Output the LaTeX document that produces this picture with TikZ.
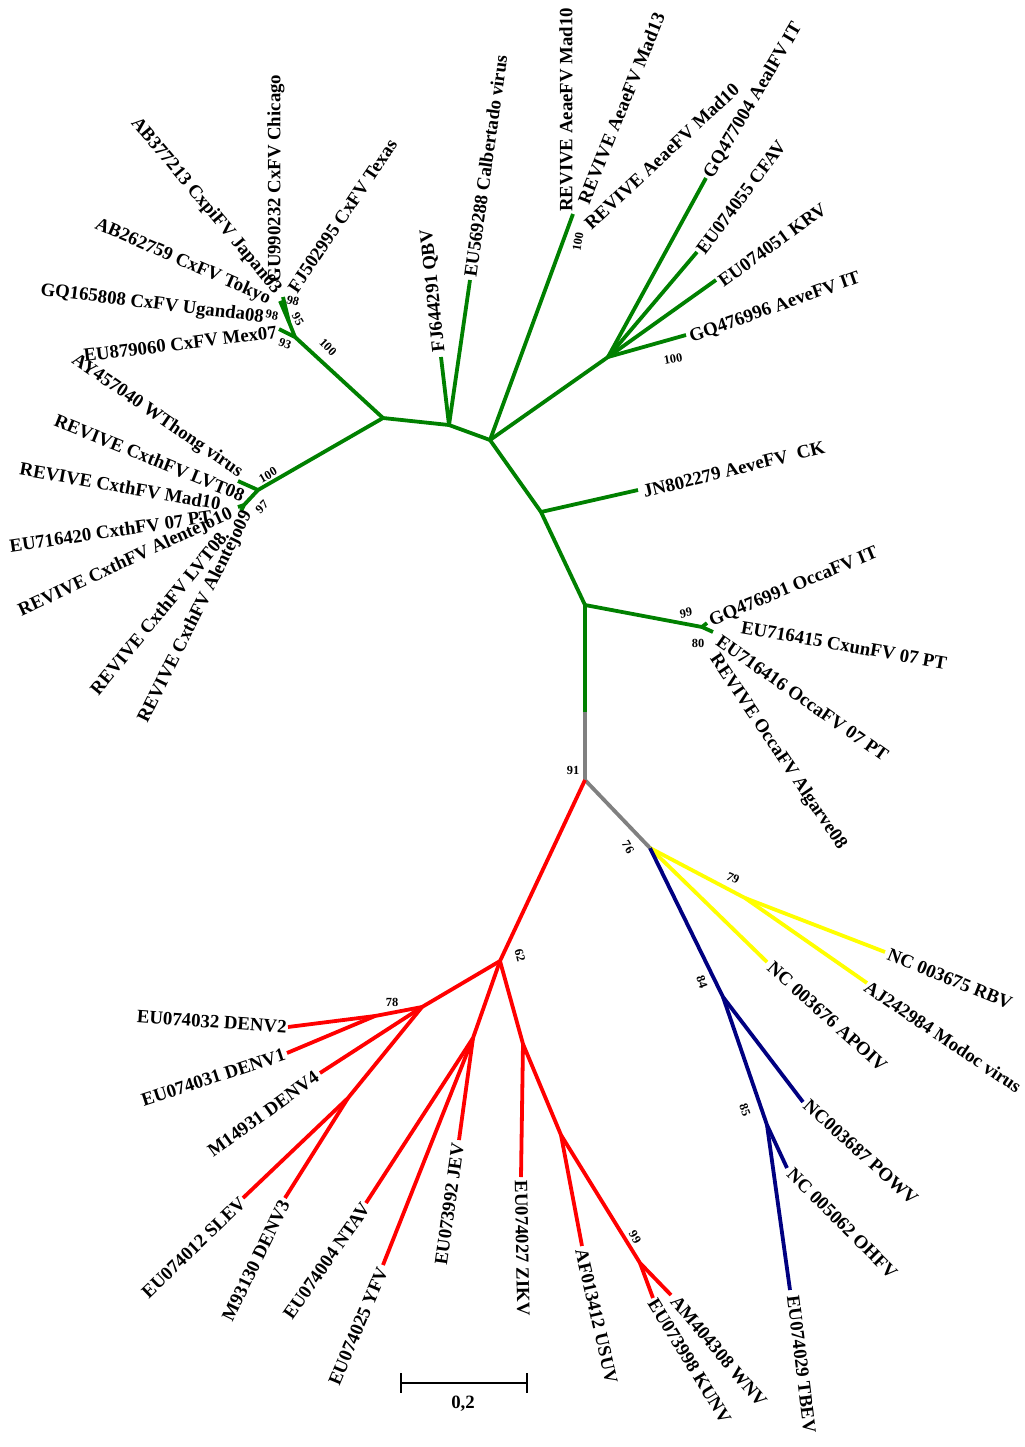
\documentclass[tikz,border=0pt]{standalone}
\usepackage{fontspec}
\setmainfont{Liberation Serif}
\definecolor{tgreen}{RGB}{0,128,0}
\definecolor{tblue}{RGB}{0,0,128}
\definecolor{tgray}{RGB}{128,128,128}
\definecolor{tyellow}{RGB}{255,255,0}
\definecolor{tred}{RGB}{255,0,0}
\begin{document}
\begin{tikzpicture}[x=0.5pt,y=-0.5pt,
  br/.style={line width=1.9pt, line join=round},
  lab/.style={font=\fontsize{9.4}{11}\selectfont\bfseries, inner sep=0pt},
  bs/.style={font=\fontsize{6.2}{7}\selectfont\bfseries, inner sep=0pt},
  labW/.style={lab, anchor=west},
  labE/.style={lab, anchor=east}]
\useasboundingbox (0,0) rectangle (1024,1447);
% ---------- coordinates ----------
\coordinate (R) at (585,780);
\coordinate (G) at (585,712);
\coordinate (N1) at (585,605);
\coordinate (O1) at (702,627);
\coordinate (O2) at (713,632);
\coordinate (O3) at (707,623);
\coordinate (N2) at (541,512);
\coordinate (JN) at (638,490);
\coordinate (N3) at (490,440);
\coordinate (AE) at (573,214);
\coordinate (N5) at (608,357);
\coordinate (L1) at (706,178);
\coordinate (L2) at (697,252);
\coordinate (L3) at (716,280);
\coordinate (L4) at (686,335);
\coordinate (N4) at (449,425);
\coordinate (QB) at (441,357);
\coordinate (CA) at (470,280);
\coordinate (N6) at (383,418);
\coordinate (N7) at (295,337);
\coordinate (MX) at (279,329);
\coordinate (N7b) at (289,322);
\coordinate (TA) at (283,297);
\coordinate (TBx) at (280,301);
\coordinate (N8) at (258,490);
\coordinate (WT) at (238,481);
\coordinate (N8b) at (244,505);
\coordinate (TC) at (241,511);
\coordinate (TD) at (238,507);
\coordinate (N76) at (650,848);
\coordinate (AP) at (767,962);
\coordinate (Y79) at (745,898);
\coordinate (RB) at (885,952);
\coordinate (MO) at (867,983);
\coordinate (B84) at (723,997);
\coordinate (PO) at (803,1102);
\coordinate (B85) at (767,1125);
\coordinate (OH) at (787,1168);
\coordinate (TBE) at (790,1290);
\coordinate (N62) at (500,961);
\coordinate (N78) at (422,1007);
\coordinate (D12) at (375,1016);
\coordinate (D2) at (288,1027);
\coordinate (D1) at (287,1053);
\coordinate (D4) at (320,1073);
\coordinate (N3s) at (348,1098);
\coordinate (SL) at (243,1198);
\coordinate (D3) at (285,1198);
\coordinate (NJ) at (473,1038);
\coordinate (NT) at (366,1203);
\coordinate (YF) at (383,1265);
\coordinate (JE) at (459,1140);
\coordinate (NZ) at (523,1044);
\coordinate (ZI) at (521,1177);
\coordinate (NU) at (561,1135);
\coordinate (US) at (582,1246);
\coordinate (NW) at (640,1263);
\coordinate (WN) at (671,1295);
\coordinate (KU) at (653,1298);
% ---------- branches ----------
\draw[br, tgray] (G) -- (R) -- (N76);
\draw[br, tgreen] (G) -- (N1);
\draw[br, tgreen] (N1) -- (O1) -- (O2);
\draw[br, tgreen] (O1) -- (O3);
\draw[br, tgreen] (N1) -- (N2) -- (N3);
\draw[br, tgreen] (N2) -- (JN);
\draw[br, tgreen] (N3) -- (AE);
\draw[br, tgreen] (N3) -- (N5);
\draw[br, tgreen] (N5) -- (L1);
\draw[br, tgreen] (N5) -- (L2);
\draw[br, tgreen] (N5) -- (L3);
\draw[br, tgreen] (N5) -- (L4);
\draw[br, tgreen] (N3) -- (N4) -- (N6);
\draw[br, tgreen] (N4) -- (QB);
\draw[br, tgreen] (N4) -- (CA);
\draw[br, tgreen] (N6) -- (N7) -- (MX);
\draw[br, tgreen] (N7) -- (N7b) -- (TA);
\draw[br, tgreen] (N7b) -- (TBx);
\draw[br, tgreen] (N6) -- (N8) -- (WT);
\draw[br, tgreen] (N8) -- (N8b) -- (TC);
\draw[br, tgreen] (N8b) -- (TD);
\draw[br, tyellow] (N76) -- (AP);
\draw[br, tyellow] (N76) -- (Y79) -- (RB);
\draw[br, tyellow] (Y79) -- (MO);
\draw[br, tblue] (N76) -- (B84) -- (PO);
\draw[br, tblue] (B84) -- (B85) -- (OH);
\draw[br, tblue] (B85) -- (TBE);
\draw[br, tred] (R) -- (N62) -- (N78) -- (D12) -- (D2);
\draw[br, tred] (D12) -- (D1);
\draw[br, tred] (N78) -- (D4);
\draw[br, tred] (N78) -- (N3s) -- (SL);
\draw[br, tred] (N3s) -- (D3);
\draw[br, tred] (N62) -- (NJ) -- (NT);
\draw[br, tred] (NJ) -- (YF);
\draw[br, tred] (NJ) -- (JE);
\draw[br, tred] (N62) -- (NZ) -- (ZI);
\draw[br, tred] (NZ) -- (NU) -- (US);
\draw[br, tred] (NU) -- (NW) -- (WN);
\draw[br, tred] (NW) -- (KU);
% ---------- leaf labels: green ----------
\node[labE, rotate=-50] (t1) at (278,292) {AB377213 CxpiFV Japan03};
\node[labW, rotate=90] (t2) at (276,283) {GU990232 CxFV Chicago};
\node[labW, rotate=56] (t3) at (292,291) {FJ502995 CxFV Texas};
\node[labE, rotate=-23.5] (t4) at (270,300) {AB262759 CxFV Tokyo};
\node[labE, rotate=-7] (t5) at (264,318) {GQ165808 CxFV Uganda08};
\node[labE, rotate=7] (t6) at (277,332) {EU879060 CxFV Mex07};
\node[labE, rotate=-34.5] (t7) at (241,474) {AY457040 WThong virus};
\node[labE, rotate=-22] (t8) at (244,496) {REVIVE CxthFV LVT08};
\node[labE, rotate=-10] (t9) at (221,504) {REVIVE CxthFV Mad10};
\node[labE, rotate=8.5] (t10) at (212,516) {EU716420 CxthFV 07 PT};
\node[labE, rotate=25] (t11) at (232,513) {REVIVE CxthFV Alentejo10};
\node[labE, rotate=50.5] (t12) at (223,535) {REVIVE CxthFV LVT08};
\node[labE, rotate=63.5] (t13) at (248,512) {REVIVE CxthFV Alentejo09};
\node[labW, rotate=96] (t14) at (440,352) {FJ644291 QBV};
\node[labW, rotate=82] (t15) at (470,277) {EU569288 Calbertado virus};
\node[labW, rotate=90] (t16) at (566,212) {REVIVE AeaeFV Mad10};
\node[labW, rotate=68] (t17) at (583,203) {REVIVE AeaeFV Mad13};
\node[labW, rotate=43] (t18) at (587,226) {REVIVE AeaeFV Mad10};
\node[labW, rotate=59.5] (t19) at (708,177) {GQ477004 AealFV IT};
\node[labW, rotate=53] (t20) at (700,252) {EU074055 CFAV};
\node[labW, rotate=36] (t21) at (720,283) {EU074051 KRV};
\node[labW, rotate=19.5] (t22) at (690,338) {GQ476996 AeveFV IT};
\node[labW, rotate=14] (t23) at (643,492) {JN802279 AeveFV~~CK};
\node[labW, rotate=22.6] (t24) at (710,622) {GQ476991 OccaFV IT};
\node[labW, rotate=-10] (t25) at (741,627) {EU716415 CxunFV 07 PT};
\node[labW, rotate=-35] (t26) at (718,639) {EU716416 OccaFV 07 PT};
\node[labW, rotate=-56] (t27) at (713,656) {REVIVE OccaFV Algarve08};
% ---------- leaf labels: yellow / blue ----------
\node[labW, rotate=-22] (t28) at (888,954) {NC 003675 RBV};
\node[labW, rotate=-34] (t29) at (866,985) {AJ242984 Modoc virus};
\node[labW, rotate=-42] (t30) at (770,965) {NC 003676 APOIV};
\node[labW, rotate=-42] (t31) at (806,1103) {NC003687 POWV};
\node[labW, rotate=-45] (t32) at (790,1171) {NC 005062 OHFV};
\node[labW, rotate=-83] (t33) at (793,1295) {EU074029 TBEV};
% ---------- leaf labels: red ----------
\node[labE, rotate=-4] (t34) at (287,1027) {EU074032 DENV2};
\node[labE, rotate=18] (t35) at (285,1054) {EU074031 DENV1};
\node[labE, rotate=36] (t36) at (317,1075) {M14931 DENV4};
\node[labE, rotate=44] (t37) at (243,1200) {EU074012 SLEV};
\node[labE, rotate=64] (t38) at (285,1201) {M93130 DENV3};
\node[labE, rotate=55] (t39) at (366,1205) {EU074004 NTAV};
\node[labE, rotate=67] (t40) at (383,1268) {EU074025 YFV};
\node[labE, rotate=82] (t41) at (458,1143) {EU073992 JEV};
\node[labW, rotate=-89] (t42) at (521,1180) {EU074027 ZIKV};
\node[labW, rotate=-77] (t43) at (581,1249) {AF013412 USUV};
\node[labW, rotate=-58.5] (t44) at (652,1300) {EU073998 KUNV};
\node[labW, rotate=-50] (t45) at (674,1298) {AM404308 WNV};
% ---------- bootstrap values ----------
\node[bs, rotate=-15] (b1) at (293,301) {98};
\node[bs, rotate=-10] (b2) at (272,315) {98};
\node[bs, rotate=-60] (b3) at (298,319) {95};
\node[bs, rotate=-20] (b4) at (285,344) {93};
\node[bs, rotate=-45] (b5) at (328,347) {100};
\node[bs, rotate=30] (b6) at (268,475) {100};
\node[bs, rotate=45] (b7) at (262,507) {97};
\node[bs, rotate=80] (b8) at (578,242) {100};
\node[bs, rotate=10] (b9) at (673,359) {100};
\node[bs, rotate=10] (b10) at (686,613) {99};
\node[bs] (b11) at (698,643) {80};
\node[bs] (b12) at (573,770) {91};
\node[bs, rotate=-60] (b13) at (628,847) {76};
\node[bs, rotate=-25] (b14) at (733,878) {79};
\node[bs, rotate=-70] (b15) at (702,982) {84};
\node[bs, rotate=-70] (b16) at (745,1110) {85};
\node[bs, rotate=-75] (b17) at (520,955) {62};
\node[bs] (b18) at (392,1002) {78};
\node[bs, rotate=-60] (b19) at (635,1237) {99};
% ---------- scale bar ----------
\coordinate (S1) at (401,1383);
\coordinate (S2) at (527,1383);
\coordinate (S1a) at (401,1373);
\coordinate (S1b) at (401,1393);
\coordinate (S2a) at (527,1373);
\coordinate (S2b) at (527,1393);
\draw[line width=1.1pt] (S1) -- (S2);
\draw[line width=1.1pt] (S1a) -- (S1b);
\draw[line width=1.1pt] (S2a) -- (S2b);
\node[lab] (sc) at (463,1404) {0,2};
\end{tikzpicture}
\end{document}
